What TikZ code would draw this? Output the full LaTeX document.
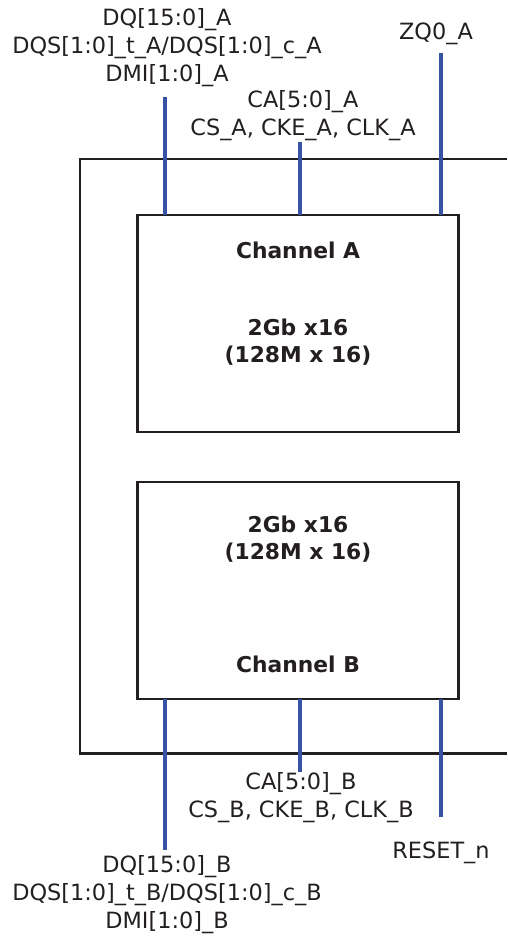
\documentclass[tikz,border=0pt]{standalone}
\usepackage{fontspec}
\setmainfont{DejaVu Sans}
\usetikzlibrary{positioning}
\definecolor{sigblue}{HTML}{3953A4}
\definecolor{inkblack}{HTML}{231F20}

\begin{document}
\begin{tikzpicture}[x=1pt,y=1pt,line width=2.8pt,text=inkblack,
                    font=\fontsize{22.4}{28}\selectfont]
  \tikzstyle{die}=[draw=inkblack,minimum width=321pt,minimum height=217pt,
                   inner sep=0pt,outer sep=0pt]
  \tikzstyle{sig}=[draw=sigblue,line width=3.1pt]
  \tikzstyle{pin}=[align=center,inner sep=0pt]
  \tikzstyle{info}=[align=center,inner sep=0pt,
                    font=\fontsize{21.8}{27}\selectfont\bfseries]

  \useasboundingbox (0,0) rectangle (507,-937);

  % package outline, open to the right
  \draw[inkblack] (507,-159) -| (80,-753.5) -- (507,-753.5);

  % the two dies
  \node[die] (chA) at (298,-323.5) {};
  \node[die] (chB) [below=50pt of chA] {};

  \node[info] (nameA) [below=26pt of chA.north] {Channel A};
  \node[info] (sizeA) at ([yshift=-19pt]chA.center) {2Gb x16\\(128M x 16)};
  \node[info] (sizeB) at ([yshift=51pt]chB.center) {2Gb x16\\(128M x 16)};
  \node[info] (nameB) [above=25pt of chB.south] {Channel B};

  % signal names
  \node[pin] (dqA) at (167,-48)    {DQ[15:0]\_A\\DQS[1:0]\_t\_A/DQS[1:0]\_c\_A\\DMI[1:0]\_A};
  \node[pin] (caA) at (303,-115.5) {CA[5:0]\_A\\CS\_A, CKE\_A, CLK\_A};
  \node[pin] (zqA) at (436,-34)    {ZQ0\_A};
  \node[pin] (caB) at (301,-797.5) {CA[5:0]\_B\\CS\_B, CKE\_B, CLK\_B};
  \node[pin] (rst) at (441,-853)   {RESET\_n};
  \node[pin] (dqB) at (167,-895)   {DQ[15:0]\_B\\DQS[1:0]\_t\_B/DQS[1:0]\_c\_B\\DMI[1:0]\_B};

  % free ends of the signal lines
  \coordinate (dqAend) at (165,-97);
  \coordinate (caAend) at (300,-142);
  \coordinate (zqAend) at (441,-53);
  \coordinate (dqBend) at (165,-850);
  \coordinate (caBend) at (300,-772);
  \coordinate (rstend) at (441,-817);

  \draw[sig] (dqAend) -- (dqAend |- chA.north);
  \draw[sig] (caAend) -- (caAend |- chA.north);
  \draw[sig] (zqAend) -- (zqAend |- chA.north);
  \draw[sig] (dqBend) -- (dqBend |- chB.south);
  \draw[sig] (caBend) -- (caBend |- chB.south);
  \draw[sig] (rstend) -- (rstend |- chB.south);
\end{tikzpicture}
\end{document}
